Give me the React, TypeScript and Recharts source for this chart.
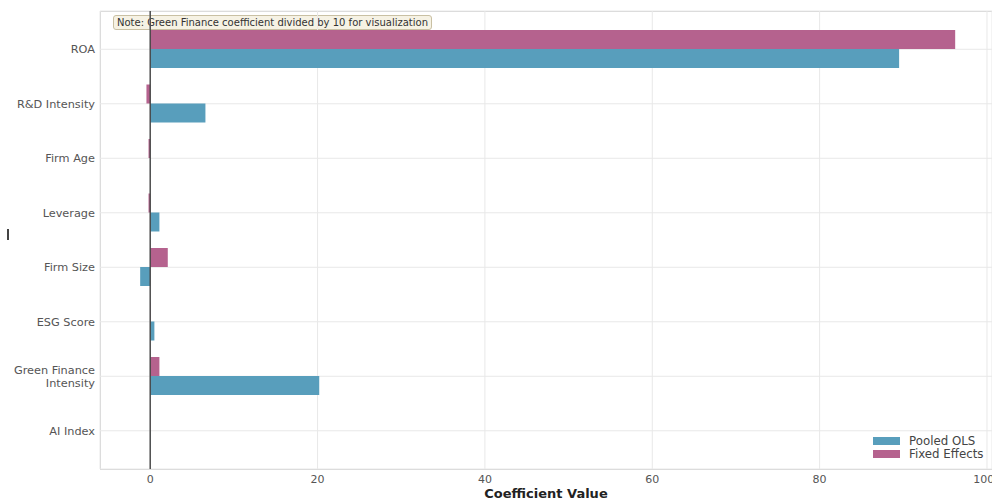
import React from "react";
import { BarChart, Bar, XAxis, YAxis, CartesianGrid, ReferenceLine } from "recharts";

const categories = [
  "ROA",
  "R&D Intensity",
  "Firm Age",
  "Leverage",
  "Firm Size",
  "ESG Score",
  "Green Finance\nIntensity",
  "AI Index",
];
const pooledOLS = [89.5, 6.6, 0.03, 1.1, -1.2, 0.5, 20.2, 0.03];
const fixedEffects = [96.2, -0.45, -0.2, -0.2, 2.1, 0.04, 1.1, 0.02];
const xTicks = [0, 20, 40, 60, 80, 100];
const seriesNames = ["Pooled OLS", "Fixed Effects"];
const noteText = "Note: Green Finance coefficient divided by 10 for visualization";

const OLS_COLOR = "#589EBC";
const FE_COLOR = "#B5628E";
const FONT = "'DejaVu Sans', sans-serif";

const data = categories.map((name, i) => ({ name, ols: pooledOLS[i], fe: fixedEffects[i] }));

const YTick = (props: any) => {
  const { x, y, payload } = props;
  const lines = String(payload.value).split("\n");
  const lh = 12.5;
  const start = -((lines.length - 1) * lh) / 2 + 4;
  return (
    <text x={x} y={y} textAnchor="end" fill="#555" fontSize={11.3} fontFamily={FONT}>
      {lines.map((l, i) => (
        <tspan key={i} x={x} dy={i === 0 ? start : lh}>
          {l}
        </tspan>
      ))}
    </text>
  );
};

export default function App() {
  return (
    <div style={{ position: "relative", width: 992, height: 502, background: "#fff", fontFamily: FONT }}>
      <style>{"body{margin:0;overflow:hidden;}"}</style>
      <div
        style={{
          position: "absolute",
          left: 100,
          top: 11,
          width: 900,
          height: 457,
          border: "1px solid #d0d0d0",
        }}
      />
      <div
        style={{
          position: "absolute",
          left: 113,
          top: 15,
          padding: "0px 3px",
          background: "#f6f2e4",
          border: "1px solid #c9c0a3",
          borderRadius: 3,
          fontSize: 10,
          lineHeight: "13px",
          color: "#333",
          whiteSpace: "nowrap",
        }}
      >
        {noteText}
      </div>
      <BarChart
        width={992}
        height={502}
        data={data}
        layout="vertical"
        margin={{ top: 11, right: 0, bottom: 0, left: 0 }}
        barSize={19}
        barGap={0}
      >
        <CartesianGrid stroke="#e8e8e8" strokeWidth={1} />
        <XAxis
          type="number"
          domain={[-6, 100.6]}
          ticks={xTicks}
          allowDataOverflow
          tickLine={false}
          axisLine={false}
          height={33}
          tickMargin={0}
          tick={{ fill: "#555", fontSize: 11, fontFamily: FONT }}
          label={{
            value: "Coefficient Value",
            position: "insideBottom",
            offset: 4,
            fill: "#222",
            fontSize: 13,
            fontWeight: "bold",
            fontFamily: FONT,
          }}
        />
        <YAxis
          type="category"
          dataKey="name"
          width={100}
          padding={{ top: 11, bottom: 11 }}
          tickLine={false}
          axisLine={false}
          tickSize={0}
          tickMargin={5}
          interval={0}
          tick={(p: any) => <YTick {...p} />}
        />
        <Bar dataKey="fe" name={seriesNames[1]} fill={FE_COLOR} isAnimationActive={false} />
        <Bar dataKey="ols" name={seriesNames[0]} fill={OLS_COLOR} isAnimationActive={false} />
        <ReferenceLine x={0} stroke="#444" strokeWidth={1.4} />
      </BarChart>
      <div style={{ position: "absolute", left: 873, top: 434, fontSize: 11.8, color: "#444" }}>
        {[OLS_COLOR, FE_COLOR].map((c, i) => (
          <div key={i} style={{ display: "flex", alignItems: "center", height: 13.5 }}>
            <span style={{ display: "inline-block", width: 27, height: 8, background: c, marginRight: 9 }} />
            <span>{seriesNames[i]}</span>
          </div>
        ))}
      </div>
      <div style={{ position: "absolute", left: 7, top: 229, width: 1.5, height: 11, background: "#444" }} />
    </div>
  );
}
